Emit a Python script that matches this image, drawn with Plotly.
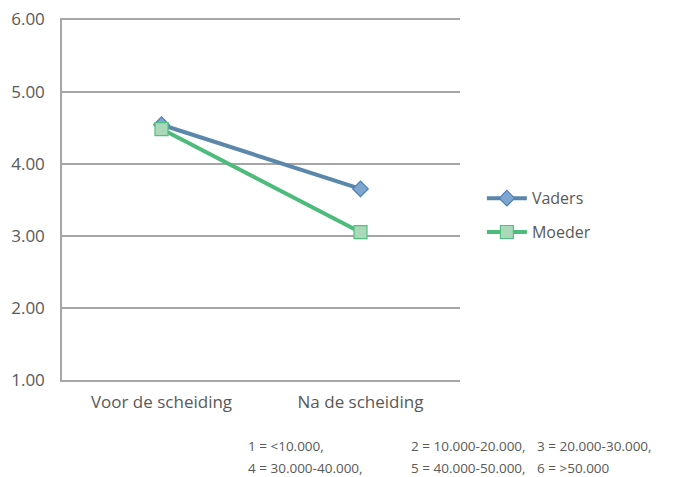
import plotly.graph_objects as go

categories = ["Voor de scheiding", "Na de scheiding"]
vaders = [4.54, 3.65]
moeder = [4.48, 3.05]
y_ticks = [1, 2, 3, 4, 5, 6]
y_tick_labels = ["1.00", "2.00", "3.00", "4.00", "5.00", "6.00"]
notes_row1 = ["1 = <10.000,", "2 = 10.000-20.000,", "3 = 20.000-30.000,"]
notes_row2 = ["4 = 30.000-40.000,", "5 = 40.000-50.000,", "6 = >50.000"]

FONT = "Open Sans"
TXT = "#595959"
L, R, T, B = 62, 213, 18, 97
W, H = 673, 477

fig = go.Figure()
fig.add_trace(go.Scatter(
    x=categories, y=vaders, name="Vaders", mode="lines+markers",
    legendgroup="v",
    line=dict(color="#5B87AB", width=4),
    marker=dict(symbol="diamond", size=12, color="#7FA6CF",
                line=dict(color="#4A7EBB", width=1.2)),
))
fig.add_trace(go.Scatter(
    x=categories, y=moeder, name="Moeder", mode="lines+markers",
    legendgroup="m",
    line=dict(color="#4DBB7B", width=4),
    marker=dict(symbol="square", size=13, color="#A9D9B8",
                line=dict(color="#52C07F", width=1.2)),
))

fig.update_layout(
    width=W, height=H,
    margin=dict(l=L, r=R, t=T, b=B),
    paper_bgcolor="white", plot_bgcolor="white",
    font=dict(family=FONT, color=TXT),
    showlegend=True,
    legend=dict(x=1.055, y=0.455, xanchor="left", yanchor="middle",
                font=dict(size=16, color=TXT), tracegroupgap=10,
                itemwidth=40, bgcolor="rgba(0,0,0,0)"),
    xaxis=dict(
        type="category", range=[-0.5, 1.5], showgrid=False,
        showline=True, linecolor="#A6A6A6", linewidth=1.5,
        ticks="", tickfont=dict(size=17, color=TXT), ticklabelstandoff=6,
        automargin=False,
    ),
    yaxis=dict(
        range=[1, 6.02], tickvals=y_ticks, ticktext=y_tick_labels,
        showgrid=True, gridcolor="#A6A6A6", gridwidth=1.5,
        showline=True, linecolor="#A6A6A6", linewidth=1.5,
        zeroline=False, ticks="", tickfont=dict(size=17, color=TXT),
        ticklabelstandoff=12, automargin=False,
    ),
)

col_x = [246, 409, 535]
for row, (texts, ypix) in enumerate([(notes_row1, 446), (notes_row2, 468)]):
    for t, xp in zip(texts, col_x):
        fig.add_annotation(
            text=t, xref="paper", yref="paper",
            x=(xp - L) / (W - L - R), y=(H - B - ypix) / (H - T - B),
            xanchor="left", yanchor="middle", showarrow=False,
            font=dict(size=13.5, color=TXT, family=FONT),
        )

fig.write_html(
    "out.html",
    config={"displayModeBar": False},
    post_script="document.body.style.margin='0';document.body.style.overflow='hidden';",
)
